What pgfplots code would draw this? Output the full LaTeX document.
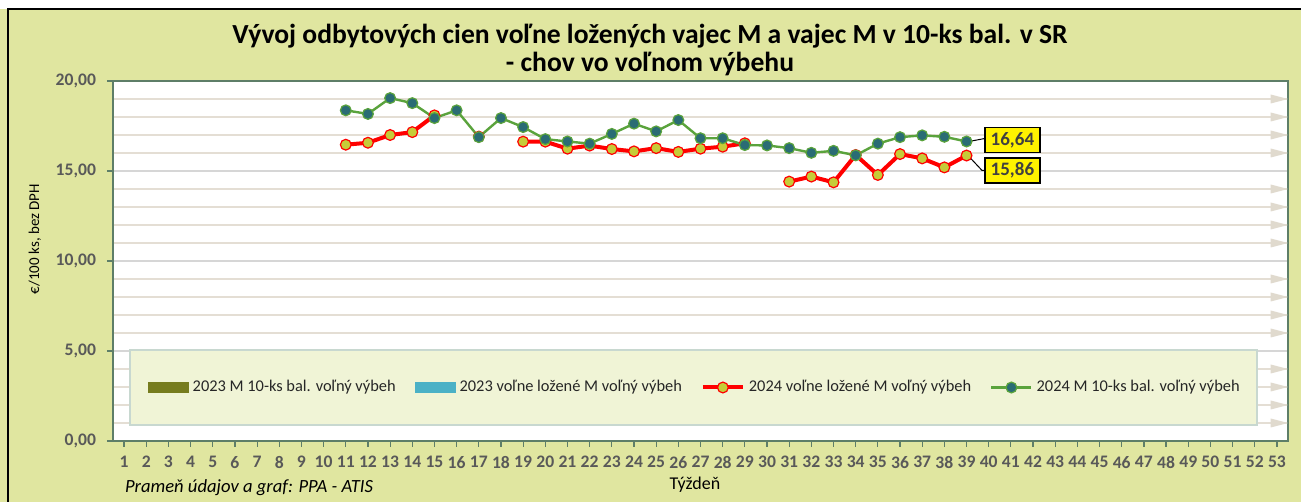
\documentclass[border=0pt]{standalone}
\usepackage{fontspec}
\setmainfont{Carlito}
\usepackage{pgfplots}
\pgfplotsset{compat=1.18}
\usetikzlibrary{arrows.meta}
\definecolor{bg}{HTML}{E0E6A0}
\definecolor{axisc}{HTML}{5E7E68}
\definecolor{majg}{HTML}{D6D6D6}
\definecolor{ming}{HTML}{E4DED4}
\definecolor{arrc}{HTML}{E0DACE}
\definecolor{tickc}{HTML}{595959}
\definecolor{legbg}{HTML}{F0F4D6}
\definecolor{legdr}{HTML}{C8D8D0}
\definecolor{olivec}{HTML}{767C1E}
\definecolor{tealc}{HTML}{4BB1C6}
\definecolor{redl}{HTML}{FF0000}
\definecolor{redfill}{HTML}{C6CC38}
\definecolor{greenl}{HTML}{5AA33C}
\definecolor{greenfill}{HTML}{2A6C74}
\definecolor{labtxt}{HTML}{404040}
\pgfplotsset{
  linelegend/.style={legend image code/.code={\draw[mark repeat=2,mark phase=2,##1] plot coordinates {(0pt,0pt)(10pt,0pt)(20pt,0pt)};}},
  olivelegend/.style={legend image code/.code={\fill[olivec] (0pt,-2.5pt) rectangle (20pt,2.5pt);}},
  teallegend/.style={legend image code/.code={\fill[tealc] (0pt,-2.5pt) rectangle (20pt,2.5pt);}},
}
\begin{document}
\begin{tikzpicture}
\fill[bg] (0,0) rectangle (650.5pt,251pt);
\fill[white] (0,246.5pt) rectangle (650.5pt,251pt);
\draw[black, line width=1pt] (4pt,0) -- (4pt,246.5pt) -- (650.5pt,246.5pt);
\node[font=\fontsize{13.8}{14}\selectfont\bfseries, align=center] at (325pt,226pt)
 {Vývoj odbytových cien voľne ložených vajec M a vajec M v 10-ks bal. v SR\\- chov vo voľnom výbehu};
\node[rotate=90, font=\fontsize{7.5}{9}\selectfont] at (17.5pt,131.5pt) {€/100 ks, bez DPH};
\node[font=\fontsize{9}{10}\selectfont] at (347.5pt,8.5pt) {Týždeň};
\node[anchor=west, font=\fontsize{9.3}{10}\selectfont\itshape] at (59pt,7pt) {Prameň údajov a graf: PPA - ATIS};
\begin{axis}[
  at={(56.5pt,30.5pt)}, anchor=south west, scale only axis,
  width=587.5pt, height=180pt,
  xmin=0.5, xmax=53.5, ymin=0, ymax=20,
  axis background/.style={fill=white},
  axis line style={draw=axisc, line width=0.8pt},
  xtick={1,...,53}, ytick={0,5,10,15,20},
  minor ytick={1,2,3,4,6,7,8,9,11,12,13,14,16,17,18,19},
  ymajorgrids, yminorgrids,
  major grid style={draw=majg, line width=0.7pt},
  minor grid style={draw=ming, line width=0.7pt},
  tick align=outside, tick pos=left,
  major tick length=3pt, minor tick length=0pt,
  tick style={draw=axisc, line width=0.6pt},
  /pgf/number format/assume math mode=true,
  xticklabel style={font=\fontsize{8.8}{9}\selectfont\bfseries, text=tickc, yshift=-1pt},
  yticklabel style={font=\fontsize{8.8}{9}\selectfont\bfseries, text=tickc, xshift=-2pt,
    /pgf/number format/.cd, fixed, fixed zerofill, precision=2, use comma},
  legend columns=4,
  legend cell align=left,
  legend style={at={(0.496,0.1486)}, anchor=center, draw=none, fill=none,
    font=\fontsize{8.2}{9}\selectfont, text=black!85,
    /tikz/every even column/.append style={column sep=7.5pt}},
  unbounded coords=jump,
  clip=false,
]
% legend panel
\fill[legbg, draw=legdr, line width=0.6pt] (axis cs:1.27,0.89) rectangle (axis cs:52.1,5.06);
% arrowheads on minor grid lines
\pgfplotsinvokeforeach{1,2,3,4,6,7,8,9,11,12,13,14,16,17,18,19}{
  \fill[arrc] (axis cs:52.72,#1+0.25) -- (axis cs:53.5,#1) -- (axis cs:52.72,#1-0.25) -- cycle;
}
\addlegendimage{olivelegend}
\addlegendentry{2023 M 10-ks bal. voľný výbeh}
\addlegendimage{teallegend}
\addlegendentry{2023 voľne ložené M voľný výbeh}
\addplot[color=redl, line width=2pt, mark=*, mark size=2.7pt,
  mark options={fill=redfill, draw=redl, line width=0.6pt}, linelegend]
 coordinates {
 (11,16.46) (12,16.57) (13,17.00) (14,17.16) (15,18.09) (16,nan) (17,16.91) (18,nan)
 (19,16.63) (20,16.63) (21,16.24) (22,16.41) (23,16.22) (24,16.09) (25,16.27) (26,16.06)
 (27,16.24) (28,16.35) (29,16.54) (30,nan) (31,14.41) (32,14.69) (33,14.37) (34,15.89)
 (35,14.78) (36,15.94) (37,15.70) (38,15.20) (39,15.86)
 };
\addlegendentry{2024 voľne ložené M voľný výbeh}
\addplot[color=greenl, line width=1.2pt, mark=*, mark size=2.7pt,
  mark options={fill=greenfill, draw=greenl, line width=0.6pt}, linelegend]
 coordinates {
 (11,18.37) (12,18.17) (13,19.05) (14,18.77) (15,17.94) (16,18.37) (17,16.88) (18,17.94)
 (19,17.44) (20,16.77) (21,16.64) (22,16.52) (23,17.06) (24,17.63) (25,17.20) (26,17.83)
 (27,16.82) (28,16.82) (29,16.44) (30,16.42) (31,16.27) (32,16.01) (33,16.12) (34,15.87)
 (35,16.52) (36,16.88) (37,16.98) (38,16.90) (39,16.64)
 };
\addlegendentry{2024 M 10-ks bal. voľný výbeh}
% data labels
\draw[black, line width=0.5pt] (axis cs:39.2,16.66) -- (axis cs:39.8,16.80) -- (axis cs:40.1,16.80);
\draw[black, line width=0.5pt] (axis cs:39.15,15.75) -- (axis cs:39.7,15.03) -- (axis cs:40.1,15.03);
\node[fill=yellow, draw=black, line width=0.6pt, font=\fontsize{9.5}{11}\selectfont\bfseries, text=labtxt,
  minimum width=27.5pt, minimum height=12.5pt, inner sep=1pt] at (axis cs:41.07,16.72) {16,64};
\node[fill=yellow, draw=black, line width=0.6pt, font=\fontsize{9.5}{11}\selectfont\bfseries, text=labtxt,
  minimum width=27.5pt, minimum height=12.5pt, inner sep=1pt] at (axis cs:41.07,15.03) {15,86};
\end{axis}
\pgfresetboundingbox
\path (0,0) rectangle (650.5pt,251pt);
\end{tikzpicture}
\end{document}
